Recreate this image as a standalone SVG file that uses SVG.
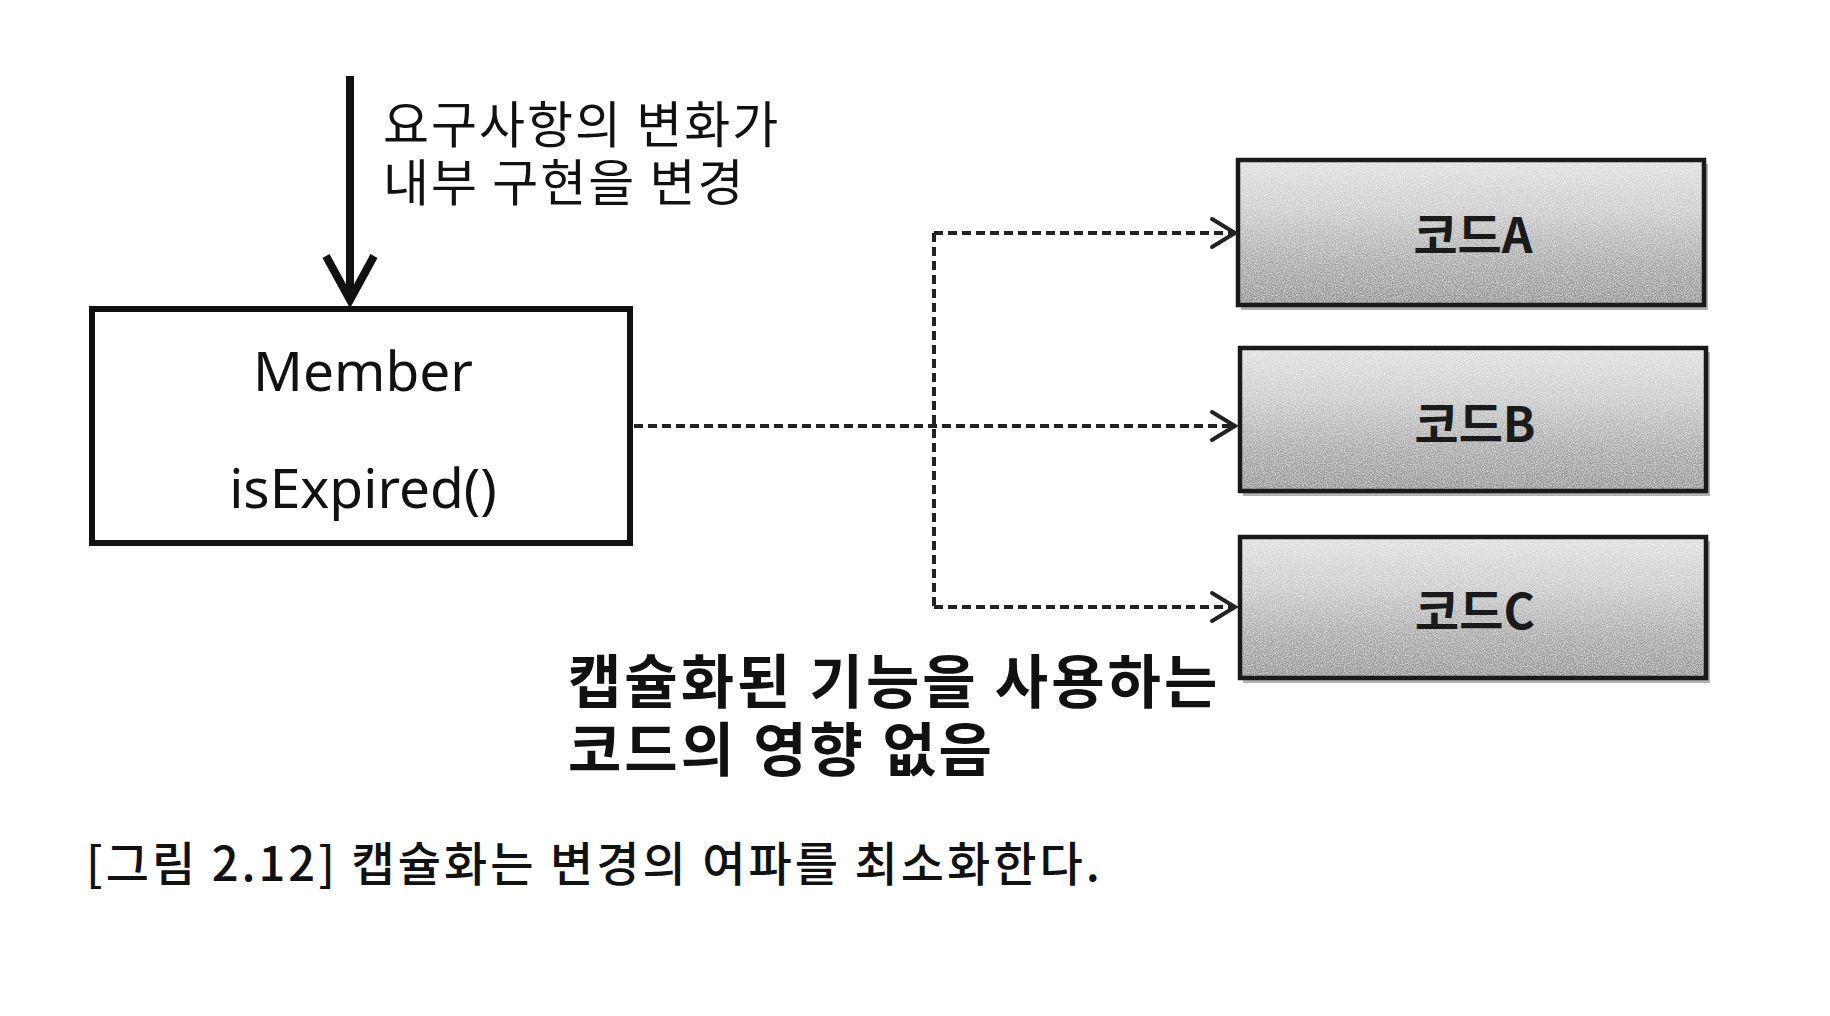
<svg xmlns="http://www.w3.org/2000/svg" width="1830" height="1016" viewBox="0 0 1830 1016">
  <style>
    .ko { font-family: "Noto Sans CJK KR", "Noto Sans", sans-serif; fill: #111; }
    .lat { font-family: "Noto Sans", "Noto Sans CJK KR", sans-serif; fill: #111; }
    .fillg { fill: url(#gray); }
    .border { fill: none; stroke: #1a1a1a; stroke-width: 4.5; }
    .shadow { fill: #666; opacity: 0.5; }
    .codeLabel { font-family: "Noto Sans CJK KR", sans-serif; font-weight: 700; font-size: 48px; fill: #1a1a1a; text-anchor: middle; }
    .dash { fill: none; stroke: #222; stroke-width: 4; stroke-dasharray: 9 5; }
    .chev { fill: none; stroke: #222; stroke-width: 4; stroke-linecap: round; stroke-linejoin: miter; }
  </style>
  <defs>
    <linearGradient id="gray" x1="0" y1="0" x2="0" y2="1">
      <stop offset="0" stop-color="#e0e0e0"/>
      <stop offset="0.35" stop-color="#cbcbcb"/>
      <stop offset="0.7" stop-color="#a8a8a8"/>
      <stop offset="1" stop-color="#929292"/>
    </linearGradient>
    <filter id="grain" x="0" y="0" width="100%" height="100%">
      <feTurbulence type="fractalNoise" baseFrequency="0.9" numOctaves="2" seed="3" result="n"/>
      <feColorMatrix in="n" type="matrix" values="0 0 0 0 1  0 0 0 0 1  0 0 0 0 1  0 0 0 1.2 -0.45" result="w"/>
      <feComposite in="w" in2="SourceGraphic" operator="in" result="wm"/>
      <feMerge><feMergeNode in="SourceGraphic"/><feMergeNode in="wm"/></feMerge>
    </filter>
  </defs>
  <rect width="1830" height="1016" fill="#ffffff"/>

  <g id="connectors">
    <line x1="350" y1="76" x2="350" y2="298" stroke="#111" stroke-width="8"/>
    <polyline points="326,256 350,300 374,256" fill="none" stroke="#111" stroke-width="8" stroke-linejoin="miter"/>
    <line class="dash" x1="634" y1="426" x2="1233" y2="426"/>
    <line class="dash" x1="934" y1="233" x2="934" y2="607"/>
    <line class="dash" x1="934" y1="233" x2="1233" y2="233"/>
    <line class="dash" x1="934" y1="607" x2="1233" y2="607"/>
    <polyline class="chev" points="1212,219 1235,233 1212,247"/>
    <polyline class="chev" points="1212,412 1235,426 1212,440"/>
    <polyline class="chev" points="1212,593 1235,607 1212,621"/>
  </g>

  <g id="label-change">
    <text class="ko" x="383" y="143" font-size="50" letter-spacing="2">요구사항의 변화가</text>
    <text class="ko" x="383" y="201" font-size="50" letter-spacing="2">내부 구현을 변경</text>
  </g>

  <g id="member">
    <rect x="92" y="309" width="538" height="234" fill="#fff" stroke="#111" stroke-width="6"/>
    <text class="lat" x="363" y="391" font-size="55" text-anchor="middle">Member</text>
    <text class="lat" x="363" y="508" font-size="55" text-anchor="middle">isExpired()</text>
  </g>

  <g id="codeA">
    <rect class="shadow" x="1241" y="164" width="467" height="146"/>
    <rect class="fillg" x="1238" y="160" width="466" height="145" filter="url(#grain)"/>
    <rect class="border" x="1238" y="160" width="466" height="145"/>
    <text class="codeLabel" x="1473" y="253">코드A</text>
  </g>
  <g id="codeB">
    <rect class="shadow" x="1243" y="352" width="467" height="144"/>
    <rect class="fillg" x="1240" y="348" width="466" height="143" filter="url(#grain)"/>
    <rect class="border" x="1240" y="348" width="466" height="143"/>
    <text class="codeLabel" x="1475" y="442">코드B</text>
  </g>
  <g id="codeC">
    <rect class="shadow" x="1243" y="541" width="467" height="142"/>
    <rect class="fillg" x="1240" y="537" width="466" height="141" filter="url(#grain)"/>
    <rect class="border" x="1240" y="537" width="466" height="141"/>
    <text class="codeLabel" x="1475" y="629">코드C</text>
  </g>

  <g id="label-effect">
    <text class="ko" x="568" y="703" font-size="58" font-weight="700" letter-spacing="3">캡슐화된 기능을 사용하는</text>
    <text class="ko" x="568" y="771" font-size="58" font-weight="700" letter-spacing="3">코드의 영향 없음</text>
  </g>

  <g id="caption">
    <text class="ko" x="86" y="881" font-size="47" font-weight="500" letter-spacing="3" fill="#222">[그림 2.12] 캡슐화는 변경의 여파를 최소화한다.</text>
  </g>
</svg>
